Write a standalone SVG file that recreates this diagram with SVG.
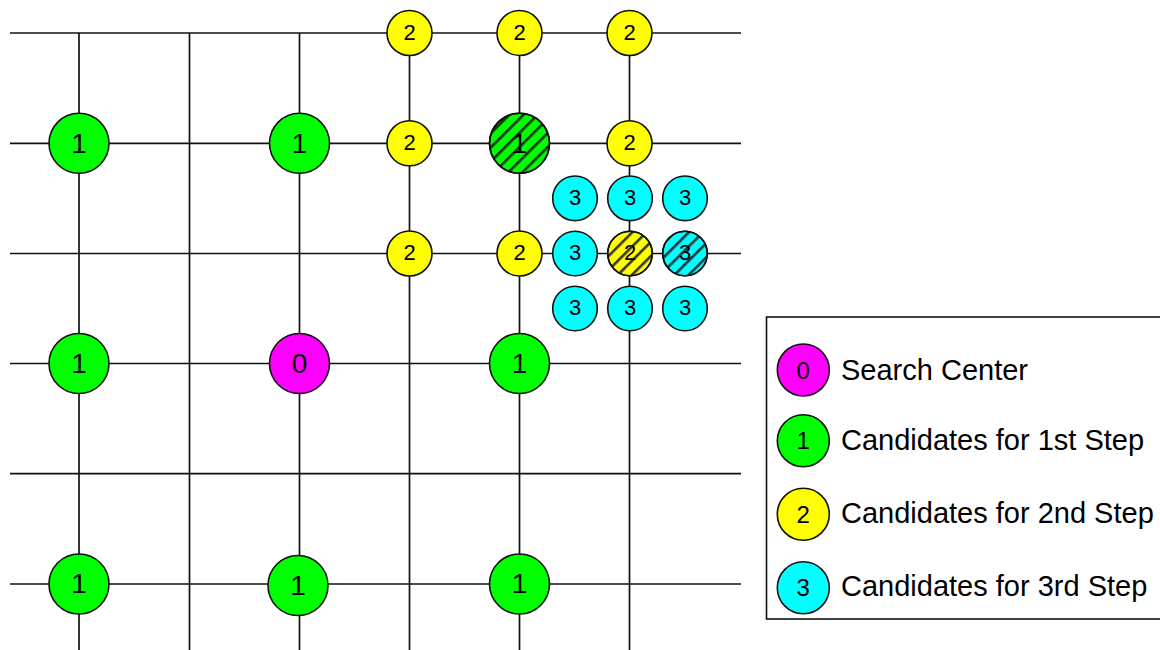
<svg xmlns="http://www.w3.org/2000/svg" width="1160" height="650" viewBox="0 0 1160 650">
<style>
.grid line{stroke:#111;stroke-width:1.7}
circle{stroke:#111;stroke-width:1.6}
.c0{fill:#ff00ff}.c1{fill:#00ff00}.c2{fill:#ffff00}.c3{fill:#00ffff}
text{font-family:"Liberation Sans",Arial,sans-serif;fill:#000;text-anchor:middle}
.big{font-size:28px}.sm{font-size:22px}.ld{font-size:24px}
.lg{font-size:29px;text-anchor:start}
</style>
<defs>
<pattern id="hatch" width="10" height="10" patternUnits="userSpaceOnUse" patternTransform="rotate(45)">
<line x1="1" y1="0" x2="1" y2="10" stroke="#111" stroke-width="3.2" opacity="0.85"/>
</pattern>
</defs>
<rect width="1160" height="650" fill="#fff"/>
<g id="connectors" class="grid">
<line x1="10" y1="33" x2="741" y2="33"/>
<line x1="10" y1="143.3" x2="741" y2="143.3"/>
<line x1="10" y1="253.5" x2="741" y2="253.5"/>
<line x1="10" y1="363.5" x2="741" y2="363.5"/>
<line x1="10" y1="473.7" x2="741" y2="473.7"/>
<line x1="10" y1="584" x2="741" y2="584"/>
<line x1="79" y1="33" x2="79" y2="650"/>
<line x1="189.5" y1="33" x2="189.5" y2="650"/>
<line x1="299.5" y1="33" x2="299.5" y2="650"/>
<line x1="409.5" y1="33" x2="409.5" y2="650"/>
<line x1="519.5" y1="33" x2="519.5" y2="650"/>
<line x1="629.5" y1="33" x2="629.5" y2="650"/>
</g>
<g id="n2a"><circle class="c2" cx="409.5" cy="33" r="22.5"/><text class="sm" x="409.5" y="39.5">2</text></g>
<g id="n2b"><circle class="c2" cx="519.5" cy="33" r="22.5"/><text class="sm" x="519.5" y="39.5">2</text></g>
<g id="n2c"><circle class="c2" cx="629.5" cy="33" r="22.5"/><text class="sm" x="629.5" y="39.5">2</text></g>
<g id="n2d"><circle class="c2" cx="409.5" cy="143.3" r="22.5"/><text class="sm" x="409.5" y="149.8">2</text></g>
<g id="n2e"><circle class="c2" cx="629.5" cy="143.3" r="22.5"/><text class="sm" x="629.5" y="149.8">2</text></g>
<g id="n2f"><circle class="c2" cx="409.5" cy="253.5" r="22.5"/><text class="sm" x="409.5" y="260">2</text></g>
<g id="n2g"><circle class="c2" cx="519.5" cy="253.5" r="22.5"/><text class="sm" x="519.5" y="260">2</text></g>
<g id="n1a"><circle class="c1" cx="79" cy="143.3" r="30"/><text class="big" x="79" y="152.5">1</text></g>
<g id="n1b"><circle class="c1" cx="299.5" cy="143.3" r="30"/><text class="big" x="299.5" y="152.5">1</text></g>
<g id="n1h"><circle class="c1" cx="519.5" cy="143.3" r="30"/><circle cx="519.5" cy="143.3" r="30" fill="url(#hatch)"/><text class="big" x="519.5" y="152.5">1</text></g>
<g id="n1c"><circle class="c1" cx="79" cy="363.5" r="30"/><text class="big" x="79" y="372.7">1</text></g>
<g id="n0"><circle class="c0" cx="299.5" cy="363.5" r="30"/><text class="big" x="299.5" y="372.7">0</text></g>
<g id="n1d"><circle class="c1" cx="519.5" cy="363.5" r="30"/><text class="big" x="519.5" y="372.7">1</text></g>
<g id="n1e"><circle class="c1" cx="79" cy="584" r="30"/><text class="big" x="79" y="593.2">1</text></g>
<g id="n1f"><circle class="c1" cx="298" cy="585.5" r="30"/><text class="big" x="298" y="594.7">1</text></g>
<g id="n1g"><circle class="c1" cx="519.5" cy="584" r="30"/><text class="big" x="519.5" y="593.2">1</text></g>
<g id="n3a"><circle class="c3" cx="575" cy="198.3" r="22.3"/><text class="sm" x="575" y="205">3</text></g>
<g id="n3b"><circle class="c3" cx="630" cy="198.3" r="22.3"/><text class="sm" x="630" y="205">3</text></g>
<g id="n3c"><circle class="c3" cx="685" cy="198.3" r="22.3"/><text class="sm" x="685" y="205">3</text></g>
<g id="n3d"><circle class="c3" cx="575" cy="253.5" r="22.3"/><text class="sm" x="575" y="260.2">3</text></g>
<g id="n2h"><circle class="c2" cx="630" cy="253.5" r="22.3"/><circle cx="630" cy="253.5" r="22.3" fill="url(#hatch)"/><text class="sm" x="630" y="260.2">2</text></g>
<g id="n3h"><circle class="c3" cx="685" cy="253.5" r="22.3"/><circle cx="685" cy="253.5" r="22.3" fill="url(#hatch)"/><text class="sm" x="685" y="260.2">3</text></g>
<g id="n3e"><circle class="c3" cx="575" cy="308.5" r="22.3"/><text class="sm" x="575" y="315.2">3</text></g>
<g id="n3f"><circle class="c3" cx="630" cy="308.5" r="22.3"/><text class="sm" x="630" y="315.2">3</text></g>
<g id="n3g"><circle class="c3" cx="685" cy="308.5" r="22.3"/><text class="sm" x="685" y="315.2">3</text></g>
<g id="legend">
<rect x="766.5" y="317" width="400" height="302" fill="#fff" stroke="#111" stroke-width="1.6"/>
<circle class="c0" cx="803.3" cy="370" r="26"/><text class="ld" x="803.3" y="378.6">0</text>
<text class="lg" x="841" y="380">Search Center</text>
<circle class="c1" cx="803.3" cy="440.7" r="26"/><text class="ld" x="803.3" y="449.3">1</text>
<text class="lg" x="841" y="449.5">Candidates for 1st Step</text>
<circle class="c2" cx="803.3" cy="514.3" r="26"/><text class="ld" x="803.3" y="522.9">2</text>
<text class="lg" x="841" y="522.5">Candidates for 2nd Step</text>
<circle class="c3" cx="803.3" cy="587.7" r="26"/><text class="ld" x="803.3" y="596.3">3</text>
<text class="lg" x="841" y="596">Candidates for 3rd Step</text>
</g>
</svg>
